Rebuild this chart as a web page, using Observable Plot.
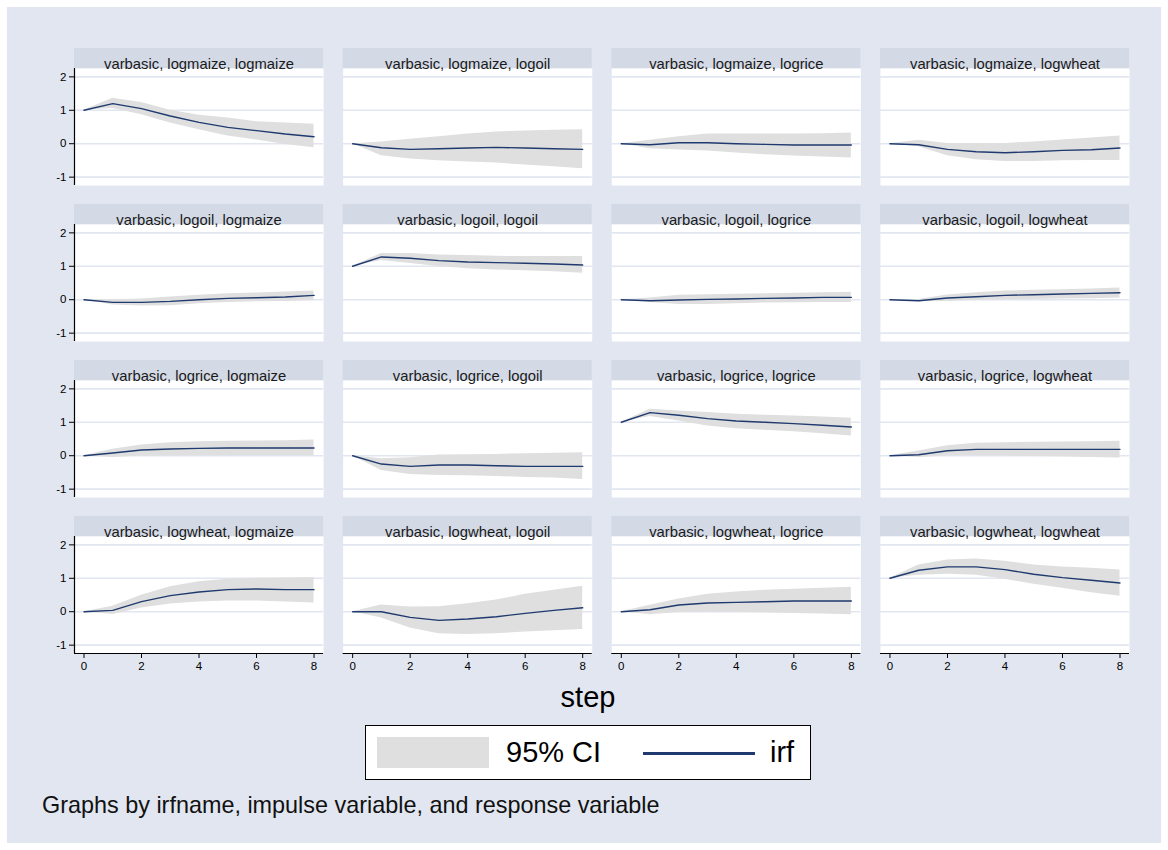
<!DOCTYPE html>
<html>
<head>
<meta charset="utf-8">
<script src="https://cdn.jsdelivr.net/npm/d3@7"></script>
<script src="https://cdn.jsdelivr.net/npm/@observablehq/plot@0.6"></script>
<style>
  body { margin: 0; background: #ffffff; font-family: "Liberation Sans", Arial, sans-serif; }
  #page { position: relative; width: 1168px; height: 850px; overflow: hidden; }
  #bg { position: absolute; left: 7px; top: 7px; width: 1154px; height: 836px; background: #e1e6f0; }
  #chart { position: absolute; left: 0; top: 0; }
  .txt { position: absolute; line-height: 1; white-space: nowrap; color: #000; }
  #legend { position: absolute; left: 365px; top: 725px; width: 446px; height: 55px;
            box-sizing: border-box; border: 1px solid #000; background: #fff; }
</style>
</head>
<body>
<div id="page">
  <div id="bg"></div>
  <div id="chart"></div>
  <div class="txt" id="xtitle" style="left:588px; top:682.5px; font-size:29px; transform:translateX(-50%);"></div>
  <div id="legend">
    <div id="ciSwatch" style="position:absolute; left:11px; top:11px; width:112px; height:31px;"></div>
    <div class="txt" id="ciLabel" style="left:140px; top:11.5px; font-size:29px;"></div>
    <div id="irfSwatch" style="position:absolute; left:277px; top:26px; width:112px; height:2.5px;"></div>
    <div class="txt" id="irfLabel" style="left:404px; top:11.5px; font-size:29px;"></div>
  </div>
  <div class="txt" id="caption" style="left:42px; top:793.5px; font-size:23.4px; color:#111;"></div>
</div>
<script>
// Impulse-response functions from the VAR "varbasic", steps 0..8.
const irfName = "varbasic";
const variables = ["logmaize", "logoil", "logrice", "logwheat"];
const steps = [0, 1, 2, 3, 4, 5, 6, 7, 8];
const xTicks = [0, 2, 4, 6, 8];
const yTicks = [-1, 0, 1, 2];

// One row per (impulse, response) pair, impulse-major order.
const irfValues = [
  [1, 1.20, 1.05, 0.83, 0.64, 0.49, 0.39, 0.29, 0.21],
  [0, -0.12, -0.17, -0.15, -0.13, -0.11, -0.13, -0.15, -0.17],
  [0, -0.03, 0.03, 0.03, 0.00, -0.02, -0.04, -0.04, -0.04],
  [0, -0.03, -0.17, -0.24, -0.27, -0.24, -0.20, -0.18, -0.13],
  [0, -0.08, -0.08, -0.05, 0.00, 0.04, 0.06, 0.08, 0.13],
  [1, 1.28, 1.24, 1.17, 1.13, 1.11, 1.09, 1.07, 1.04],
  [0, -0.03, -0.01, 0.01, 0.02, 0.04, 0.05, 0.07, 0.07],
  [0, -0.03, 0.05, 0.09, 0.13, 0.15, 0.17, 0.19, 0.21],
  [0, 0.08, 0.17, 0.20, 0.22, 0.23, 0.23, 0.23, 0.23],
  [0, -0.25, -0.32, -0.28, -0.28, -0.30, -0.32, -0.32, -0.32],
  [1, 1.29, 1.21, 1.11, 1.04, 1.00, 0.96, 0.91, 0.86],
  [0, 0.03, 0.15, 0.19, 0.19, 0.19, 0.19, 0.19, 0.19],
  [0, 0.04, 0.30, 0.48, 0.59, 0.66, 0.68, 0.66, 0.66],
  [0, 0.00, -0.17, -0.26, -0.22, -0.15, -0.05, 0.04, 0.12],
  [0, 0.06, 0.20, 0.26, 0.28, 0.30, 0.32, 0.32, 0.32],
  [1, 1.24, 1.34, 1.34, 1.26, 1.12, 1.02, 0.94, 0.86]
];
const ciLower = [
  [1, 1.05, 0.87, 0.62, 0.42, 0.23, 0.11, -0.02, -0.12],
  [0, -0.36, -0.46, -0.51, -0.55, -0.58, -0.64, -0.69, -0.75],
  [0, -0.15, -0.19, -0.22, -0.28, -0.33, -0.37, -0.40, -0.43],
  [0, -0.09, -0.36, -0.48, -0.53, -0.53, -0.51, -0.50, -0.50],
  [0, -0.16, -0.19, -0.18, -0.12, -0.08, -0.06, -0.05, -0.02],
  [1, 1.17, 1.08, 0.99, 0.93, 0.89, 0.87, 0.84, 0.79],
  [0, -0.08, -0.14, -0.14, -0.12, -0.10, -0.09, -0.08, -0.08],
  [0, -0.06, -0.05, -0.02, 0.00, 0.01, 0.02, 0.03, 0.05],
  [0, -0.05, -0.01, -0.01, 0.00, 0.00, 0.00, 0.00, 0.00],
  [0, -0.44, -0.56, -0.59, -0.60, -0.62, -0.65, -0.67, -0.71],
  [1, 1.17, 1.04, 0.89, 0.81, 0.76, 0.72, 0.66, 0.59],
  [0, -0.05, 0.00, 0.00, -0.01, -0.02, -0.03, -0.05, -0.07],
  [0, -0.08, 0.11, 0.23, 0.29, 0.32, 0.32, 0.29, 0.26],
  [0, -0.19, -0.49, -0.66, -0.68, -0.66, -0.61, -0.57, -0.53],
  [0, -0.09, -0.02, -0.01, -0.02, -0.03, -0.05, -0.07, -0.09],
  [1, 1.09, 1.12, 1.09, 0.97, 0.82, 0.70, 0.57, 0.46]
];
const ciUpper = [
  [1, 1.36, 1.23, 1.00, 0.85, 0.77, 0.66, 0.62, 0.58],
  [0, 0.05, 0.13, 0.21, 0.29, 0.35, 0.38, 0.40, 0.42],
  [0, 0.10, 0.21, 0.29, 0.29, 0.29, 0.29, 0.30, 0.32],
  [0, 0.10, 0.01, 0.01, 0.01, 0.05, 0.11, 0.17, 0.23],
  [0, 0.00, 0.02, 0.08, 0.13, 0.18, 0.20, 0.23, 0.26],
  [1, 1.38, 1.38, 1.34, 1.32, 1.30, 1.29, 1.29, 1.29],
  [0, 0.05, 0.13, 0.15, 0.16, 0.18, 0.19, 0.21, 0.22],
  [0, 0.01, 0.14, 0.21, 0.26, 0.28, 0.30, 0.32, 0.35],
  [0, 0.19, 0.32, 0.39, 0.42, 0.43, 0.44, 0.45, 0.47],
  [0, -0.09, -0.06, 0.02, 0.03, 0.04, 0.06, 0.07, 0.09],
  [1, 1.39, 1.34, 1.29, 1.24, 1.21, 1.19, 1.16, 1.12],
  [0, 0.14, 0.30, 0.37, 0.39, 0.40, 0.41, 0.42, 0.43],
  [0, 0.16, 0.49, 0.75, 0.90, 0.97, 1.00, 1.01, 1.02],
  [0, 0.20, 0.14, 0.15, 0.24, 0.35, 0.52, 0.64, 0.76],
  [0, 0.19, 0.38, 0.52, 0.59, 0.64, 0.67, 0.70, 0.73],
  [1, 1.40, 1.55, 1.58, 1.51, 1.40, 1.34, 1.30, 1.25]
];

const xTitle = "step";
const ciName = "95% CI";
const irfLabel = "irf";
const captionText = "Graphs by irfname, impulse variable, and response variable";

// Colours
const pageBg = "#e1e6f0";
const stripFill = "#d3d9e5";
const gridColor = "#e1e6f0";
const ciFill = "#dfdfdf";
const irfStroke = "#1f3a6e";

// Tidy tables
const panels = [];
const rows = [];
variables.forEach((impulse, i) => {
  variables.forEach((response, j) => {
    const k = i * variables.length + j;
    panels.push({impulse, response});
    steps.forEach((step, s) => {
      rows.push({impulse, response, step, irf: irfValues[k][s], lo: ciLower[k][s], hi: ciUpper[k][s]});
    });
  });
});

const yDomain = [-1.25, 2.25];
const font = "'Liberation Sans', Arial, sans-serif";

const chart = Plot.plot({
  width: 1168,
  height: 690,
  marginTop: 68,
  marginLeft: 74,
  marginRight: 39,
  marginBottom: 37,
  style: {background: "transparent", fontFamily: font, fontSize: "11.5px", color: "#000", overflow: "visible"},
  fx: {domain: variables, axis: null, paddingInner: 0.073, paddingOuter: 0, round: false},
  fy: {domain: variables, axis: null, paddingInner: 0.25, paddingOuter: 0, round: false},
  x: {domain: [0, 8], inset: 9.5},
  y: {domain: yDomain},
  marks: [
    Plot.frame({fill: "white", stroke: "none"}),
    // title strip above each panel
    Plot.rect(panels, {fx: "response", fy: "impulse", fill: stripFill, insetTop: -20, insetBottom: 117}),
    Plot.text(panels, {
      fx: "response", fy: "impulse",
      text: d => `${irfName}, ${d.impulse}, ${d.response}`,
      frameAnchor: "top", dy: -10, fontSize: 14.8, fill: "#1a1a1a"
    }),
    Plot.gridY({ticks: yTicks, stroke: gridColor, strokeOpacity: 1, strokeWidth: 1.6}),
    Plot.areaY(rows, {x: "step", y1: "lo", y2: "hi", fx: "response", fy: "impulse", fill: ciFill}),
    Plot.lineY(rows, {x: "step", y: "irf", fx: "response", fy: "impulse", stroke: irfStroke, strokeWidth: 1.4}),
    // axis lines: left column and bottom row
    Plot.ruleX(variables, {fx: () => variables[0], fy: d => d, x: 0, dx: -9.5, stroke: "#000", strokeWidth: 1.2}),
    Plot.ruleY(variables, {fx: d => d, fy: () => variables[variables.length - 1], y: yDomain[0], stroke: "#000", strokeWidth: 1.2}),
    Plot.axisY({ticks: yTicks, tickSize: 5, tickPadding: 3, fontSize: 11.5, tickFormat: d => String(d), label: null, stroke: "#000", fill: "#000"}),
    Plot.axisX({ticks: xTicks, tickSize: 5, tickPadding: 3, fontSize: 11.5, tickFormat: d => String(d), label: null, stroke: "#000", fill: "#000"})
  ]
});
document.getElementById("chart").appendChild(chart);

document.getElementById("xtitle").textContent = xTitle;
document.getElementById("ciSwatch").style.background = ciFill;
document.getElementById("ciLabel").textContent = ciName;
document.getElementById("irfSwatch").style.background = irfStroke;
document.getElementById("irfLabel").textContent = irfLabel;
document.getElementById("caption").textContent = captionText;
</script>
</body>
</html>
